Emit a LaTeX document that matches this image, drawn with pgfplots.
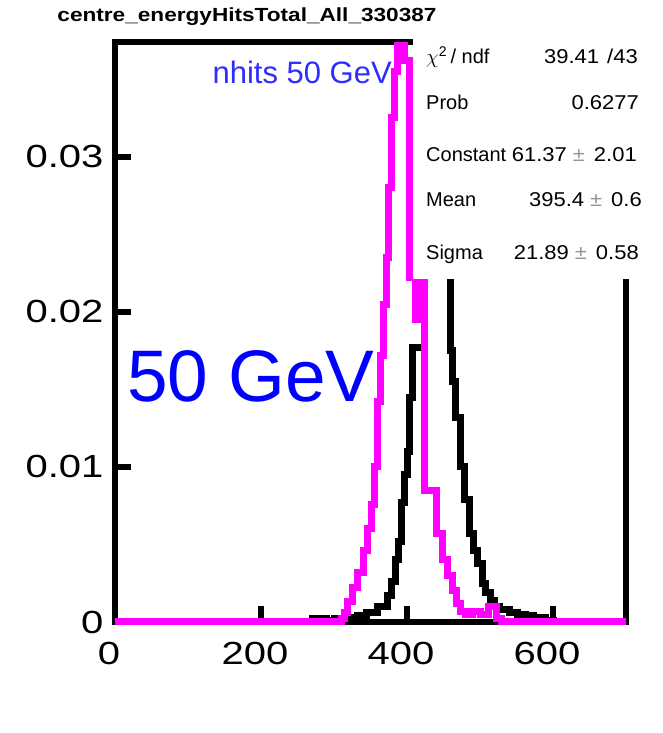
\documentclass[border=0pt]{standalone}
\usepackage{pgfplots}
\pgfplotsset{compat=1.18}
\usepackage{fontspec}
\setmainfont{Liberation Sans}
\newfontfamily\tickfont[FakeStretch=1.25]{Liberation Sans}
\newfontfamily\titlefont[FakeStretch=1.19]{Liberation Sans}
\newfontfamily\statfont[FakeStretch=1.1]{Liberation Sans}

\definecolor{hitmagenta}{RGB}{255,0,255}
\definecolor{labelblue}{RGB}{0,0,255}
\definecolor{nhitsblue}{RGB}{45,45,255}
\definecolor{pmgray}{RGB}{150,150,150}

% energy sum distribution (bin left edge, normalised entries)
\pgfplotstableread{
x     y
0     0
270   0.0002
290   0.0001
300   0.0002
318   0.0003
332   0.0004
345   0.0006
359   0.0010
373   0.0017
379   0.0026
384   0.0040
388   0.0052
393   0.0077
397   0.0095
400   0.0110
403   0.0145
407   0.0177
424   0.0270
432   0.0295
440   0.0300
448   0.0270
459   0.0175
463   0.0155
467   0.0132
473   0.0100
479   0.0079
486   0.0057
491   0.0046
496   0.0038
503   0.0025
508   0.0019
514   0.0014
520   0.0010
527   0.0008
540   0.0006
551   0.0005
562   0.0004
573   0.0003
590   0.0001
600   0
700   0
}\energytable

% number of hits distribution (bin left edge, normalised entries)
\pgfplotstableread{
x     y
0     0
310   0.0002
314   0.0006
318   0.0013
325   0.0022
332   0.0032
340   0.0046
346   0.0060
351   0.0076
356   0.0100
360   0.0142
364   0.0172
368   0.0205
372   0.0235
375   0.0280
379   0.0325
383   0.0355
387   0.0372
396   0.0362
404   0.0222
411   0.0195
415   0.0222
424   0.0085
441   0.0057
449   0.0040
456   0.0030
463   0.0020
468   0.0012
473   0.0007
480   0.0005
490   0.0007
500   0.0005
512   0.0010
522   0.0002
530   0
700   0
}\nhitstable

\begin{document}
\begin{tikzpicture}
\useasboundingbox (0,0) rectangle (662pt,733pt);

\node[font=\titlefont\bfseries\fontsize{19}{19}\selectfont] at (247pt,716pt)
  {centre\_energyHitsTotal\_All\_330387};

\begin{axis}[
  at={(115pt,111pt)}, anchor=south west,
  scale only axis, width=511pt, height=580pt,
  xmin=0, xmax=700, ymin=0, ymax=0.0374,
  clip=false,
  axis line style={line width=6pt},
  tick align=inside,
  xtick pos=bottom, ytick pos=left,
  major tick length=16pt,
  tick style={line width=6pt, black},
  xtick={0,200,400,600},
  xticklabels={0,200,400,600},
  ytick={0,0.01,0.02,0.03},
  yticklabels={0,0.01,0.02,0.03},
  scaled y ticks=false,
  tick label style={font=\tickfont\fontsize{32}{32}\selectfont},
  xticklabel style={yshift=-17pt, xshift=-6pt},
  yticklabel style={xshift=-8pt},
]
\addplot[const plot, black, line width=7pt] table[x=x, y=y] {\energytable};
\addplot[const plot, hitmagenta, line width=7pt] table[x=x, y=y] {\nhitstable};
\end{axis}

% fit statistics panel
\fill[white] (413pt,454pt) rectangle (662pt,703pt);
\begin{scope}[every node/.style={font=\fontsize{20}{20}\selectfont, inner sep=0pt}]
\node[anchor=base west] at (426pt,669pt) {$\chi$\textsuperscript{2}\,/ ndf};
\node[anchor=base east, font=\statfont\fontsize{20}{20}\selectfont] at (638pt,669pt) {39.41 \hspace{2pt}/43};
\node[anchor=base west] at (426pt,623pt) {Prob};
\node[anchor=base east, font=\statfont\fontsize{20}{20}\selectfont] at (639pt,623pt) {0.6277};
\node[anchor=base west] at (426pt,571pt) {Constant};
\node[anchor=base east, font=\statfont\fontsize{20}{20}\selectfont] at (637pt,571pt) {61.37\hspace{6pt}{\color{pmgray}±}\hspace{9pt}2.01};
\node[anchor=base west] at (426pt,526pt) {Mean};
\node[anchor=base east, font=\statfont\fontsize{20}{20}\selectfont] at (642pt,526pt) {395.4\hspace{6pt}{\color{pmgray}±}\hspace{9pt}0.6};
\node[anchor=base west] at (426pt,473pt) {Sigma};
\node[anchor=base east, font=\statfont\fontsize{20}{20}\selectfont] at (639pt,473pt) {21.89\hspace{6pt}{\color{pmgray}±}\hspace{9pt}0.58};
\end{scope}

\node[anchor=base east, inner sep=0pt, text=nhitsblue, font=\fontsize{31}{31}\selectfont]
  at (392pt,649pt) {nhits 50 GeV};
\node[anchor=base west, inner sep=0pt, text=labelblue, font=\fontsize{73}{73}\selectfont]
  at (127pt,331pt) {50 GeV};
\end{tikzpicture}
\end{document}
